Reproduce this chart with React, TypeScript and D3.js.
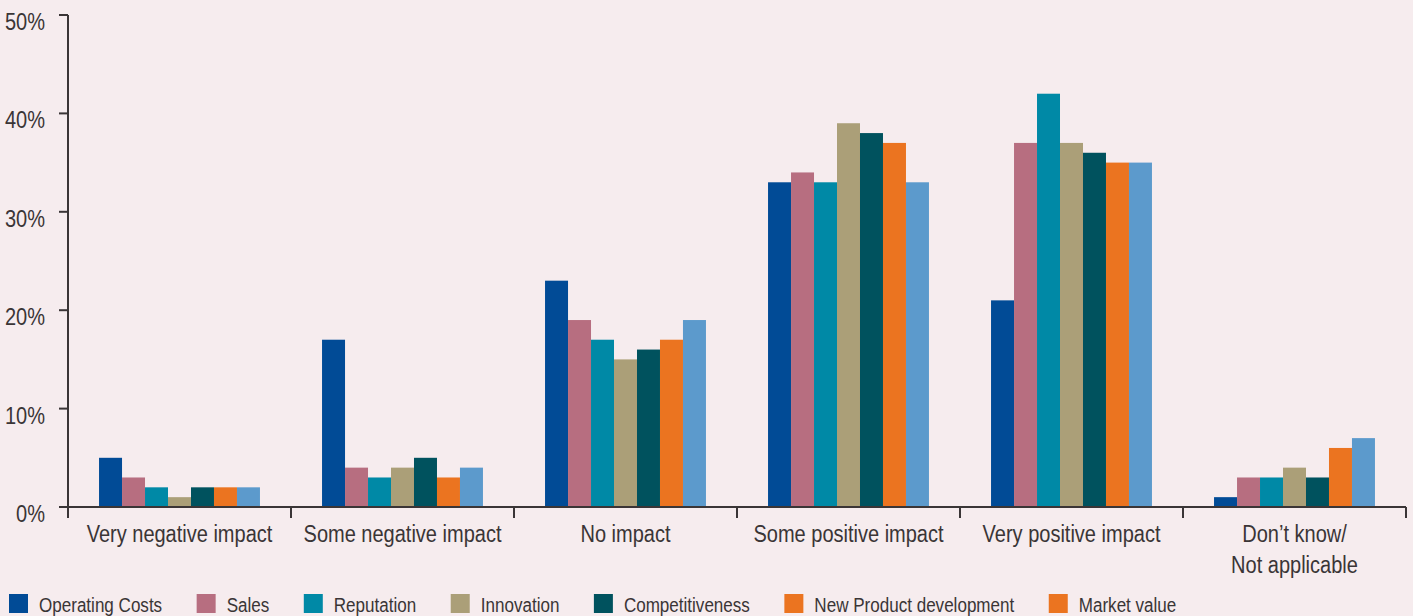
import React, { useEffect, useRef } from "react";
import * as d3 from "d3";

const categories = [
  ["Very negative impact"],
  ["Some negative impact"],
  ["No impact"],
  ["Some positive impact"],
  ["Very positive impact"],
  ["Don\u2019t know/", "Not applicable"],
];

const seriesNames = [
  "Operating Costs",
  "Sales",
  "Reputation",
  "Innovation",
  "Competitiveness",
  "New Product development",
  "Market value",
];

const operatingCosts = [5, 17, 23, 33, 21, 1];
const sales = [3, 4, 19, 34, 37, 3];
const reputation = [2, 3, 17, 33, 42, 3];
const innovation = [1, 4, 15, 39, 37, 4];
const competitiveness = [2, 5, 16, 38, 36, 3];
const newProductDevelopment = [2, 3, 17, 37, 35, 6];
const marketValue = [2, 4, 19, 33, 35, 7];

const seriesValues = [
  operatingCosts,
  sales,
  reputation,
  innovation,
  competitiveness,
  newProductDevelopment,
  marketValue,
];

const barColors = ["#014B96", "#B76E80", "#0089A6", "#AB9F78", "#00525E", "#EB7420", "#5C9ACC"];
// the legend swatch for Market value is printed in orange
const legendColors = ["#014B96", "#B76E80", "#0089A6", "#AB9F78", "#00525E", "#EB7420", "#EB7420"];

const yTicks = [0, 10, 20, 30, 40, 50];

const W = 1413;
const H = 616;
const BG = "#F6ECEE";
const INK = "#3A3536";
const FONT = "'Liberation Sans', Arial, sans-serif";
// horizontal squeeze that gives the condensed lettering
const SQUEEZE = 0.87;

type Sel = d3.Selection<SVGGElement, unknown, null, undefined>;

function condensedText(
  parent: Sel,
  x: number,
  y: number,
  text: string,
  size: number,
  anchor: string = "start"
) {
  return parent
    .append("text")
    .attr("transform", `translate(${x},${y}) scale(${SQUEEZE},1)`)
    .attr("text-anchor", anchor)
    .attr("font-family", FONT)
    .attr("font-size", size)
    .attr("fill", INK)
    .text(text);
}

export default function App() {
  const ref = useRef<SVGSVGElement>(null);

  useEffect(() => {
    const svg = d3.select(ref.current);
    svg.selectAll("*").remove();

    const left = 68;
    const right = 1406;
    const top = 15;
    const bottom = 507;

    const y = d3.scaleLinear().domain([0, 50]).range([bottom, top]);
    const x0 = d3
      .scaleBand<number>()
      .domain(d3.range(categories.length))
      .range([left, right])
      .paddingInner(0)
      .paddingOuter(0);
    const x1 = d3
      .scaleBand<number>()
      .domain(d3.range(seriesNames.length))
      .range([0, x0.bandwidth()])
      .paddingInner(0)
      .paddingOuter(1.35);

    svg.append("rect").attr("width", W).attr("height", H).attr("fill", BG);

    // bars
    const groups = svg
      .append("g")
      .selectAll("g")
      .data(categories.map((_, i) => i))
      .join("g")
      .attr("transform", (i) => `translate(${x0(i)},0)`);

    groups
      .selectAll("rect")
      .data((ci) => seriesValues.map((vals, si) => ({ si, v: vals[ci] })))
      .join("rect")
      .attr("x", (d) => x1(d.si)!)
      .attr("width", x1.bandwidth())
      .attr("y", (d) => y(d.v))
      .attr("height", (d) => bottom - y(d.v))
      .attr("fill", (d) => barColors[d.si]);

    // axes
    const axes = svg.append("g").attr("stroke", INK).attr("stroke-width", 2).attr("fill", "none");
    axes.append("line").attr("x1", left).attr("x2", left).attr("y1", top).attr("y2", bottom + 11);
    axes.append("line").attr("x1", left - 9).attr("x2", right).attr("y1", bottom).attr("y2", bottom);
    yTicks.forEach((t) => {
      axes.append("line").attr("x1", left - 9).attr("x2", left).attr("y1", y(t)).attr("y2", y(t));
    });
    d3.range(categories.length + 1).forEach((i) => {
      const xx = i === categories.length ? right : x0(i)!;
      axes.append("line").attr("x1", xx).attr("x2", xx).attr("y1", bottom).attr("y2", bottom + 11);
    });

    const labels = svg.append("g") as unknown as Sel;

    // y tick labels
    yTicks.forEach((t) => condensedText(labels, 45, y(t) + 15, `${t}%`, 23, "end"));

    // category labels
    categories.forEach((lines, i) => {
      const cx = x0(i)! + x0.bandwidth() / 2;
      lines.forEach((l, k) => condensedText(labels, cx, 542 + k * 31, l, 23, "middle"));
    });

    // legend
    const legend = svg.append("g") as unknown as Sel;
    let lx = 9;
    seriesNames.forEach((name, i) => {
      legend
        .append("rect")
        .attr("x", lx)
        .attr("y", 594)
        .attr("width", 19)
        .attr("height", 19)
        .attr("fill", legendColors[i]);
      const txt = condensedText(legend, lx + 30, 612, name, 19.6);
      const w = (txt.node() as SVGTextElement).getComputedTextLength() * SQUEEZE;
      lx = lx + 30 + w + 34.5;
    });
  }, []);

  return (
    <svg
      ref={ref}
      width={W}
      height={H}
      style={{ position: "absolute", left: 0, top: 0, display: "block" }}
    />
  );
}
